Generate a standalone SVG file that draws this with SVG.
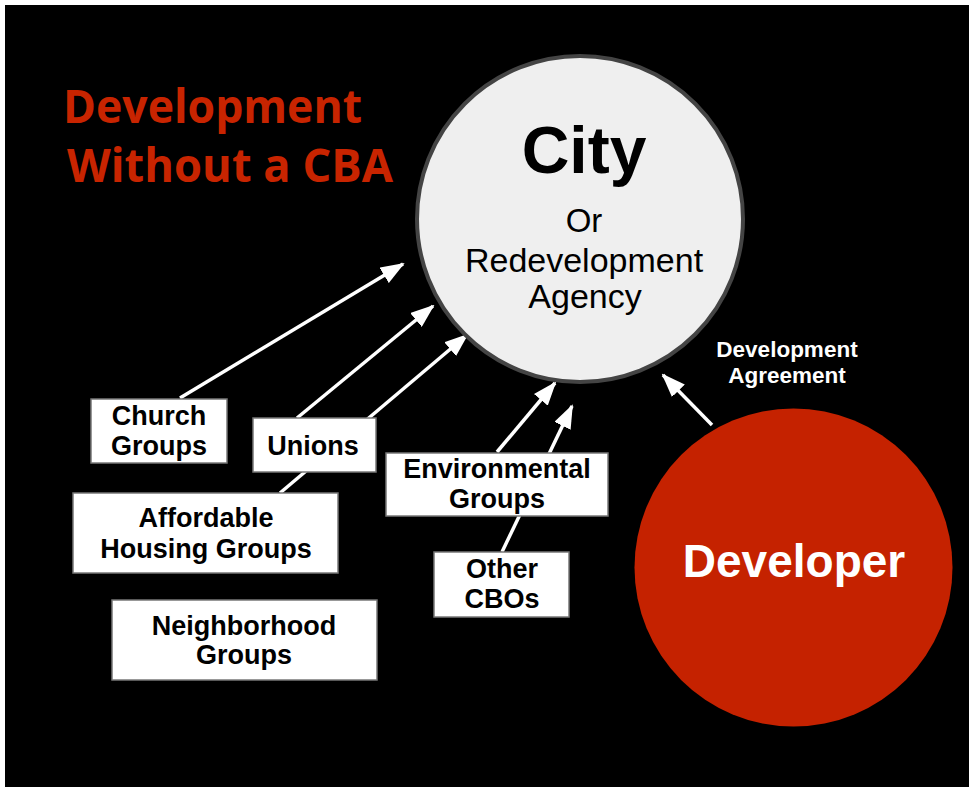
<svg xmlns="http://www.w3.org/2000/svg" width="969" height="787" viewBox="0 0 969 787">
<defs>
<style>
.box{fill:#ffffff;stroke:#777;stroke-width:1.5}
.bt{font-family:"Liberation Sans",Arial,sans-serif;font-weight:bold;font-size:27px;fill:#000;text-anchor:middle}
.ct{font-family:"Liberation Sans",Arial,sans-serif;fill:#000;text-anchor:middle}
.wt{font-family:"Liberation Sans",Arial,sans-serif;font-weight:bold;fill:#fff;text-anchor:middle}
.conn{stroke:#fff;stroke-width:3.5;fill:none;marker-end:url(#ah)}
.title{font-family:"Open Sans","Noto Sans",sans-serif;font-weight:bold;font-size:46px;fill:#c82400}
</style>
<marker id="ah" markerUnits="userSpaceOnUse" markerWidth="24" markerHeight="18" refX="22" refY="9" orient="auto">
<path d="M0,0 L24,9 L0,18 z" fill="#fff"/>
</marker>
</defs>
<rect x="0" y="0" width="969" height="787" fill="#fff"/>
<rect x="5" y="5" width="964" height="782" fill="#000"/>

<g id="title">
<text class="title" x="63" y="123" textLength="299" lengthAdjust="spacingAndGlyphs">Development</text>
<text class="title" x="67" y="182" textLength="326" lengthAdjust="spacingAndGlyphs">Without a CBA</text>
</g>

<g id="connectors">
<line class="conn" x1="180" y1="398" x2="403" y2="264"/>
<line class="conn" x1="297" y1="418" x2="433" y2="306"/>
<line class="conn" x1="280" y1="493" x2="467" y2="335"/>
<line class="conn" x1="497" y1="452" x2="555" y2="383"/>
<line class="conn" x1="502" y1="552" x2="572" y2="406"/>
<line class="conn" x1="712" y1="425" x2="663" y2="375"/>
</g>

<g id="city">
<circle cx="580" cy="219" r="163" fill="#efefef" stroke="#444" stroke-width="4"/>
<text class="ct" x="584" y="173" font-size="66" font-weight="bold">City</text>
<text class="ct" x="584" y="232" font-size="33">Or</text>
<text class="ct" x="584" y="272" font-size="34">Redevelopment</text>
<text class="ct" x="585" y="308" font-size="34">Agency</text>
</g>

<g id="developer">
<circle cx="793.5" cy="567.5" r="159" fill="#c52200"/>
<text class="wt" x="794" y="577" font-size="46">Developer</text>
</g>

<g id="agreement-label">
<text class="wt" x="787" y="357" font-size="22.5">Development</text>
<text class="wt" x="787" y="383" font-size="22.5">Agreement</text>
</g>

<g id="church">
<rect class="box" x="91" y="399" width="136" height="64"/>
<text class="bt" x="159" y="425">Church</text>
<text class="bt" x="159" y="455">Groups</text>
</g>

<g id="unions">
<rect class="box" x="253" y="418" width="123" height="54"/>
<text class="bt" x="313" y="455">Unions</text>
</g>

<g id="affordable">
<rect class="box" x="73" y="493" width="265" height="80"/>
<text class="bt" x="206" y="527">Affordable</text>
<text class="bt" x="206" y="558">Housing Groups</text>
</g>

<g id="neighborhood">
<rect class="box" x="112" y="600" width="265" height="80"/>
<text class="bt" x="244" y="635">Neighborhood</text>
<text class="bt" x="244" y="664">Groups</text>
</g>

<g id="environmental">
<rect class="box" x="386" y="453" width="222" height="63"/>
<text class="bt" x="497" y="478">Environmental</text>
<text class="bt" x="497" y="508">Groups</text>
</g>

<g id="other-cbos">
<rect class="box" x="434" y="552" width="135" height="65"/>
<text class="bt" x="502" y="578">Other</text>
<text class="bt" x="502" y="608">CBOs</text>
</g>
</svg>
